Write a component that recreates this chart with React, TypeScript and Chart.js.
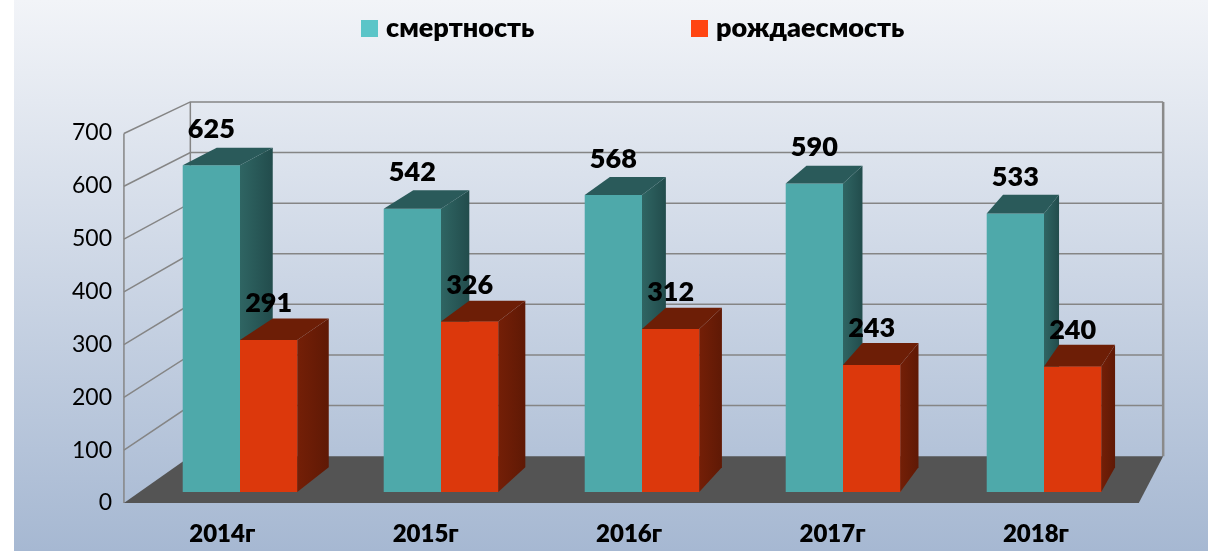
import React, { useEffect, useRef } from "react";
import { Chart, registerables } from "chart.js";

Chart.register(...registerables);

// ---- data ----
const categories = ["2014г", "2015г", "2016г", "2017г", "2018г"];
const seriesNames = ["смертность", "рождаесмость"];
const mortality = [625, 542, 568, 590, 533];
const births = [291, 326, 312, 243, 240];
const yMin = 0;
const yMax = 700;
const yStep = 100;

// ---- styling / geometry ----
const FONT = "Lato, 'Open Sans', 'Noto Sans', sans-serif";
const frontColors = ["#4ea9aa", "#dc380c"];
const sideColors = [["#2f6563", "#224c4c"], ["#741f07", "#5f1905"]];
const topColors = ["#2a5a5a", "#6d1e06"];
const legendColors = ["#5bc5c8", "#ff4512"];
const VP = { x: 1728, y: -629 };
const F_FRONT = -0.0098;
const F_BACK = 0.032;
const F_BAR = 0.022;

function proj(x: number, y: number, f: number): [number, number] {
  return [x + f * (VP.x - x), y + f * (VP.y - y)];
}

function drawBarSides(ctx: any, el: any, di: number) {
  const { x, y, base, width } = el.getProps(["x", "y", "base", "width"], true);
  const l = x - width / 2;
  const r = x + width / 2;
  const t = Math.min(y, base);
  const b = Math.max(y, base);
  const rt = proj(r, t, F_BAR);
  const rb = proj(r, b, F_BAR);
  const lt = proj(l, t, F_BAR);
  const g = ctx.createLinearGradient(r, 0, rt[0], 0);
  g.addColorStop(0, sideColors[di][0]);
  g.addColorStop(1, sideColors[di][1]);
  ctx.fillStyle = g;
  ctx.beginPath();
  ctx.moveTo(r, t);
  ctx.lineTo(rt[0], rt[1]);
  ctx.lineTo(rb[0], rb[1]);
  ctx.lineTo(r, b);
  ctx.closePath();
  ctx.fill();
  ctx.fillStyle = topColors[di];
  ctx.beginPath();
  ctx.moveTo(l, t);
  ctx.lineTo(r, t);
  ctx.lineTo(rt[0], rt[1]);
  ctx.lineTo(lt[0], lt[1]);
  ctx.closePath();
  ctx.fill();
}

const threeD = {
  id: "threeD",
  beforeDraw(chart: any) {
    const { ctx, width, height } = chart;
    ctx.save();
    const g = ctx.createLinearGradient(0, 0, 0, height);
    g.addColorStop(0, "#f2f4f8");
    g.addColorStop(1, "#a6b8d2");
    ctx.fillStyle = g;
    ctx.fillRect(14, 0, width - 14, height);
    ctx.restore();
  },
  beforeDatasetsDraw(chart: any) {
    const { ctx, chartArea } = chart;
    const { left, right } = chartArea;
    const yb = chart.scales.yBar;
    const ticks = chart.scales.y.ticks.map((t: any) => t.value);
    ctx.save();
    ctx.strokeStyle = "#858585";
    ctx.lineWidth = 1.5;
    for (const v of ticks) {
      if (v === 0) continue;
      const py = yb.getPixelForValue(v);
      const a = proj(left, py, F_FRONT);
      const b = proj(left, py, F_BACK);
      const c = proj(right, py, F_BACK);
      ctx.beginPath();
      ctx.moveTo(a[0], a[1]);
      ctx.lineTo(b[0], b[1]);
      ctx.lineTo(c[0], c[1]);
      ctx.stroke();
    }
    const pTop = yb.getPixelForValue(yMax);
    const p0 = yb.getPixelForValue(0);
    const verticals: [number, number, number][] = [
      [left, F_FRONT, 1.5],
      [left, F_BACK, 1.5],
      [right, F_BACK, 2.5],
    ];
    for (const [x, f, w] of verticals) {
      const a = proj(x, pTop, f);
      const b = proj(x, p0, f);
      ctx.lineWidth = w;
      ctx.strokeStyle = w > 2 ? "#8a8a8a" : "#858585";
      ctx.beginPath();
      ctx.moveTo(a[0], a[1]);
      ctx.lineTo(b[0], b[1]);
      ctx.stroke();
    }
    // floor
    const fl = proj(left, p0, F_FRONT);
    const fr = proj(right, p0, F_FRONT);
    const br = proj(right, p0, F_BACK);
    const bl = proj(left, p0, F_BACK);
    ctx.fillStyle = "#545454";
    ctx.beginPath();
    ctx.moveTo(fl[0], fl[1]);
    ctx.lineTo(fr[0], fr[1]);
    ctx.lineTo(br[0], br[1]);
    ctx.lineTo(bl[0], bl[1]);
    ctx.closePath();
    ctx.fill();
    ctx.restore();
  },
  afterDatasetDraw(chart: any, args: any) {
    // datasets are drawn last-to-first; once the first (front-left) series is
    // drawn, add its 3D faces, then redraw the second series on top with its faces.
    if (args.index !== 0) return;
    const { ctx } = chart;
    ctx.save();
    const m0 = chart.getDatasetMeta(0);
    const m1 = chart.getDatasetMeta(1);
    m0.data.forEach((el: any, i: number) => {
      drawBarSides(ctx, el, 0);
      const el1 = m1.data[i];
      if (el1) {
        el1.draw(ctx);
        drawBarSides(ctx, el1, 1);
      }
    });
    ctx.restore();
  },
  afterDatasetsDraw(chart: any) {
    const { ctx } = chart;
    ctx.save();
    ctx.fillStyle = "#000";
    ctx.font = `800 27px ${FONT}`;
    ctx.textAlign = "center";
    ctx.textBaseline = "alphabetic";
    chart.data.datasets.forEach((ds: any, di: number) => {
      const meta = chart.getDatasetMeta(di);
      meta.data.forEach((el: any, i: number) => {
        ctx.fillText(String(ds.data[i]), el.x, el.y - 27.5);
      });
    });
    // legend
    const legendX = [361, 691];
    ctx.font = `800 27px ${FONT}`;
    ctx.textAlign = "left";
    ctx.textBaseline = "alphabetic";
    chart.data.datasets.forEach((ds: any, di: number) => {
      ctx.fillStyle = legendColors[di];
      ctx.fillRect(legendX[di], 20, 17, 17);
      ctx.fillStyle = "#000";
      ctx.fillText(ds.label, legendX[di] + 25, 36.5);
    });
    ctx.restore();
  },
};

export default function App() {
  const ref = useRef<HTMLCanvasElement>(null);
  useEffect(() => {
    document.body.style.margin = "0";
    const chart = new Chart(ref.current!, {
      type: "bar",
      data: {
        labels: categories,
        datasets: [
          {
            label: seriesNames[0],
            data: mortality,
            backgroundColor: frontColors[0],
            xAxisID: "x",
            yAxisID: "yBar",
          },
          {
            label: seriesNames[1],
            data: births,
            backgroundColor: frontColors[1],
            xAxisID: "x",
            yAxisID: "yBar",
          },
        ],
      },
      options: {
        animation: false,
        responsive: true,
        maintainAspectRatio: false,
        layout: { padding: { top: 133, right: 63.5, left: 0, bottom: 0 } },
        datasets: { bar: { barPercentage: 1, categoryPercentage: 0.57 } },
        plugins: { legend: { display: false }, tooltip: { enabled: false } },
        scales: {
          x: { type: "category", display: false, offset: true },
          yBar: { type: "linear", display: false, min: -21.04, max: 686.8 },
          y: {
            type: "linear",
            position: "left",
            min: yMin,
            max: yMax,
            grid: { display: false, drawTicks: false },
            border: { display: false },
            ticks: {
              stepSize: yStep,
              padding: 27.5,
              color: "#000",
              font: { family: FONT, size: 23 },
            },
            afterFit: (s: any) => {
              s.width = 139.5;
            },
          },
          x2: {
            type: "linear",
            position: "bottom",
            offset: false,
            min: -0.4066,
            max: 4.534,
            grid: { display: false, drawTicks: false, offset: false },
            border: { display: false },
            afterBuildTicks: (s: any) => {
              s.ticks = categories.map((_, i) => ({ value: i }));
            },
            ticks: {
              padding: 17,
              color: "#000",
              font: { family: FONT, size: 24, weight: 800 },
              callback: (v: any) => categories[v as number],
            },
            afterFit: (s: any) => {
              s.height = 48;
            },
          },
        },
      },
      plugins: [threeD],
    });
    return () => chart.destroy();
  }, []);
  return (
    <div style={{ position: "relative", width: 1208, height: 551 }}>
      <canvas ref={ref} />
    </div>
  );
}
